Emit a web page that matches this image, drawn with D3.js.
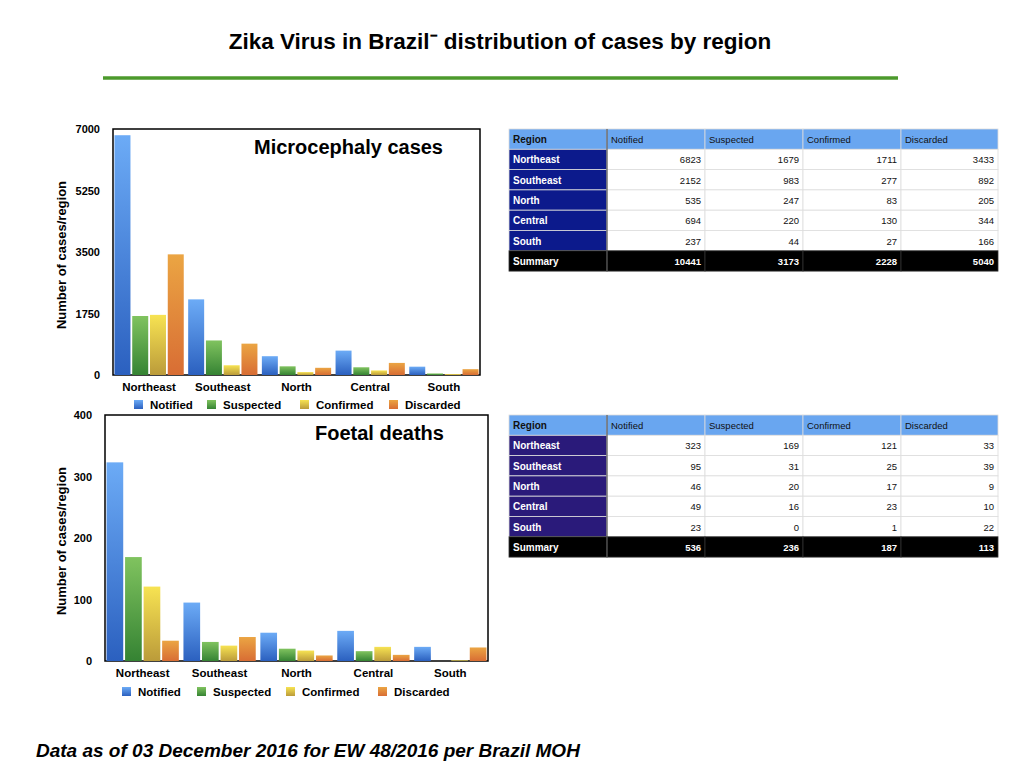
<!DOCTYPE html>
<html>
<head>
<meta charset="utf-8">
<script src="https://cdn.jsdelivr.net/npm/d3@7"></script>
<style>
  body { margin: 0; background: #fff; }
  text { font-family: Arial, "Liberation Sans", sans-serif; }
</style>
</head>
<body>
<div id="vis"></div>
<script>
var series = ['Notified', 'Suspected', 'Confirmed', 'Discarded'];
var regions = ['Northeast', 'Southeast', 'North', 'Central', 'South'];

var micro = [
  { region: 'Northeast', Notified: 6823, Suspected: 1679, Confirmed: 1711, Discarded: 3433 },
  { region: 'Southeast', Notified: 2152, Suspected: 983, Confirmed: 277, Discarded: 892 },
  { region: 'North', Notified: 535, Suspected: 247, Confirmed: 83, Discarded: 205 },
  { region: 'Central', Notified: 694, Suspected: 220, Confirmed: 130, Discarded: 344 },
  { region: 'South', Notified: 237, Suspected: 44, Confirmed: 27, Discarded: 166 }
];
var microSum = [10441, 3173, 2228, 5040];

var foetal = [
  { region: 'Northeast', Notified: 323, Suspected: 169, Confirmed: 121, Discarded: 33 },
  { region: 'Southeast', Notified: 95, Suspected: 31, Confirmed: 25, Discarded: 39 },
  { region: 'North', Notified: 46, Suspected: 20, Confirmed: 17, Discarded: 9 },
  { region: 'Central', Notified: 49, Suspected: 16, Confirmed: 23, Discarded: 10 },
  { region: 'South', Notified: 23, Suspected: 0, Confirmed: 1, Discarded: 22 }
];
var foetalSum = [536, 236, 187, 113];

var colors = {
  Notified: ['#6cabf6', '#2b60bf'],
  Suspected: ['#80c35f', '#358333'],
  Confirmed: ['#f7e352', '#bb9b3a'],
  Discarded: ['#eba543', '#d86d34']
};

var svg = d3.select('#vis').append('svg')
  .attr('width', 1024).attr('height', 768);

var defs = svg.append('defs');
series.forEach(function (s) {
  var gr = defs.append('linearGradient').attr('id', 'g-' + s)
    .attr('x1', 0).attr('y1', 0).attr('x2', 0).attr('y2', 1);
  gr.append('stop').attr('offset', '0%').attr('stop-color', colors[s][0]);
  gr.append('stop').attr('offset', '100%').attr('stop-color', colors[s][1]);
});

// title + rule
svg.append('text').attr('x', 500).attr('y', 49).attr('text-anchor', 'middle')
  .style('font-size', '22.5px').style('font-weight', 'bold')
  .text('Zika Virus in Brazil\u207B  distribution of cases by region');
svg.append('line').attr('x1', 103).attr('x2', 898).attr('y1', 78).attr('y2', 78)
  .attr('stroke', '#4c9a2c').attr('stroke-width', 3.5);

svg.append('text').attr('x', 36).attr('y', 757)
  .style('font-size', '19px').style('font-weight', 'bold').style('font-style', 'italic')
  .text('Data as of 03 December 2016 for EW 48/2016 per Brazil MOH');

function drawChart(data, opt) {
  var g = svg.append('g');
  var x0 = d3.scaleBand().domain(regions).range([opt.left, opt.right]).paddingInner(0.06).paddingOuter(0.02);
  var x1 = d3.scaleBand().domain(series).range([0, x0.bandwidth()]).paddingInner(0.1);
  var y = d3.scaleLinear().domain([0, opt.max]).range([opt.bottom, opt.top]);

  g.append('rect').attr('x', opt.left).attr('y', opt.top)
    .attr('width', opt.right - opt.left).attr('height', opt.bottom - opt.top)
    .attr('fill', 'none').attr('stroke', '#000').attr('stroke-width', 1.5);

  var yAxis = d3.axisLeft(y).tickValues(opt.ticks).tickFormat(d3.format('d')).tickSize(0).tickPadding(13);
  g.append('g').attr('transform', 'translate(' + opt.left + ',0)').call(yAxis)
    .call(function (a) { a.select('.domain').remove(); })
    .selectAll('text').style('font-size', '11px').style('font-weight', 'bold').attr('fill', '#000');

  var xAxis = d3.axisBottom(x0).tickSize(0).tickPadding(8);
  g.append('g').attr('transform', 'translate(0,' + opt.bottom + ')').call(xAxis)
    .call(function (a) { a.select('.domain').remove(); })
    .selectAll('text').style('font-size', '11.5px').style('font-weight', 'bold').attr('fill', '#000');

  g.append('text').attr('transform', 'translate(66,' + ((opt.top + opt.bottom) / 2 + 3) + ') rotate(-90)')
    .attr('text-anchor', 'middle').style('font-size', '13px').style('font-weight', 'bold')
    .text('Number of cases/region');

  var groups = g.selectAll('.grp').data(data).enter().append('g')
    .attr('transform', function (d) { return 'translate(' + x0(d.region) + ',0)'; });
  groups.selectAll('rect').data(function (d) {
    return series.map(function (s) { return { key: s, value: d[s] }; });
  }).enter().append('rect')
    .attr('x', function (d) { return x1(d.key); })
    .attr('y', function (d) { return y(d.value); })
    .attr('width', x1.bandwidth())
    .attr('height', function (d) { return opt.bottom - y(d.value); })
    .attr('fill', function (d) { return 'url(#g-' + d.key + ')'; });

  g.append('text').attr('x', opt.labelX).attr('y', opt.top + 25)
    .style('font-size', '20px').style('font-weight', 'bold').text(opt.label);

  var leg = g.selectAll('.leg').data(series).enter().append('g')
    .attr('transform', function (d, i) { return 'translate(' + opt.legendX[i] + ',' + opt.legendY + ')'; });
  leg.append('rect').attr('x', 0).attr('y', -5).attr('width', 9).attr('height', 9)
    .attr('fill', function (d) { return 'url(#g-' + d + ')'; });
  leg.append('text').attr('x', 16).attr('y', 4).style('font-size', '11.5px').style('font-weight', 'bold')
    .text(function (d) { return d; });
}

drawChart(micro, { left: 113, right: 480, top: 129, bottom: 375, max: 7000,
  ticks: [0, 1750, 3500, 5250, 7000], label: 'Microcephaly cases', labelX: 254,
  legendX: [134, 207, 300, 389], legendY: 405 });
drawChart(foetal, { left: 105, right: 488, top: 415, bottom: 661, max: 400,
  ticks: [0, 100, 200, 300, 400], label: 'Foetal deaths', labelX: 315,
  legendX: [122, 197, 286, 378], legendY: 692 });

function drawTable(data, sums, top, regionColor) {
  var g = svg.append('g');
  var colX = [509, 607, 705, 803, 901, 998];
  var rh = 20.3;
  var rows = [['Region'].concat(series)]
    .concat(data.map(function (d) { return [d.region].concat(series.map(function (s) { return d[s]; })); }))
    .concat([['Summary'].concat(sums)]);
  rows.forEach(function (r, i) {
    var yy = top + i * rh;
    r.forEach(function (c, j) {
      var fill = i === 0 ? '#69a6f0' : (i === rows.length - 1 ? '#000' : (j === 0 ? regionColor : '#fff'));
      g.append('rect').attr('x', colX[j]).attr('y', yy).attr('width', colX[j + 1] - colX[j]).attr('height', rh)
        .attr('fill', fill).attr('stroke', i === rows.length - 1 ? '#333' : '#ddd').attr('stroke-width', 0.8);
      var header = i === 0;
      var left = header || j === 0;
      g.append('text')
        .attr('x', left ? colX[j] + 4 : colX[j + 1] - 4)
        .attr('y', yy + 14)
        .attr('text-anchor', left ? 'start' : 'end')
        .style('font-size', j === 0 ? '10px' : '9.5px')
        .style('font-weight', (j === 0 || i === rows.length - 1) ? 'bold' : 'normal')
        .attr('fill', header ? '#111' : ((j === 0 || i === rows.length - 1) ? '#fff' : '#111'))
        .text(c);
    });
  });
  g.append('line').attr('x1', 607).attr('x2', 607).attr('y1', top).attr('y2', top + rh * 7)
    .attr('stroke', '#555').attr('stroke-width', 1.2);
}
drawTable(micro, microSum, 129, '#0c1a8c');
drawTable(foetal, foetalSum, 415, '#2a1a7a');
</script>
</body>
</html>
